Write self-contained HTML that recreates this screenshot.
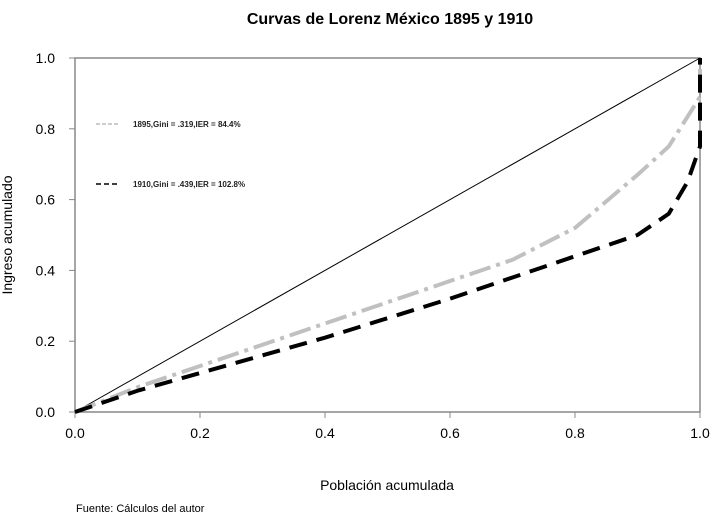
<!DOCTYPE html>
<html><head><meta charset="utf-8"><style>
body{margin:0;background:#fff;width:720px;height:522px;overflow:hidden}
svg text{font-family:"Liberation Sans",sans-serif}
</style></head><body>
<svg width="720" height="522">
<text x="390" y="24" text-anchor="middle" font-size="16" font-weight="bold">Curvas de Lorenz México 1895 y 1910</text>
<rect x="75" y="58" width="625" height="354" fill="none" stroke="#888" stroke-width="1.5"/>
<g id="axes"></g>
<line x1="75" y1="412" x2="700" y2="58" stroke="#000" stroke-width="1"/>
<path id="p1895" fill="none" stroke="#c0c0c0" stroke-width="4" stroke-dasharray="22,6,4,6"/>
<path id="p1910" fill="none" stroke="#000" stroke-width="4" stroke-dasharray="18,10"/>
<g>
<line x1="96" y1="124" x2="120" y2="124" stroke="#bbb" stroke-width="1.5" stroke-dasharray="4,2"/>
<text x="133" y="127" font-size="8" font-weight="bold" fill="#222">1895,Gini = .319,IER = 84.4%</text>
<line x1="96" y1="184" x2="120" y2="184" stroke="#000" stroke-width="1.5" stroke-dasharray="5,3"/>
<text x="133" y="187" font-size="8" font-weight="bold" fill="#222">1910,Gini = .439,IER = 102.8%</text>
</g>
<text x="387" y="490" text-anchor="middle" font-size="14">Población acumulada</text>
<text transform="translate(12,235) rotate(-90)" text-anchor="middle" font-size="14">Ingreso acumulado</text>
<text x="76" y="512" font-size="11">Fuente: Cálculos del autor</text>
</svg>
<script>
const ticks=[0,0.2,0.4,0.6,0.8,1.0];
const tickLabels=["0.0","0.2","0.4","0.6","0.8","1.0"];
const x1895=[0,0.1,0.2,0.4,0.6,0.7,0.8,0.9,0.95,1,1];
const y1895=[0,0.07,0.13,0.25,0.37,0.43,0.52,0.67,0.75,0.89,1];
const x1910=[0,0.1,0.2,0.4,0.6,0.7,0.8,0.9,0.95,0.98,1,1];
const y1910=[0,0.06,0.11,0.21,0.32,0.38,0.44,0.5,0.56,0.65,0.75,1];
const X=v=>75+v*625, Y=v=>412-v*354;
const ns="http://www.w3.org/2000/svg";
const g=document.getElementById('axes');
ticks.forEach((t,i)=>{
 let l=document.createElementNS(ns,'line');
 l.setAttribute('x1',X(t));l.setAttribute('x2',X(t));l.setAttribute('y1',412);l.setAttribute('y2',418);l.setAttribute('stroke','#888');
 
 
 g.appendChild(l);
 let tx=document.createElementNS(ns,'text');
 tx.setAttribute('x',X(t));tx.setAttribute('y',438);tx.setAttribute('text-anchor','middle');tx.setAttribute('font-size','14');tx.textContent=tickLabels[i];
 
 
 g.appendChild(tx);
 let l2=document.createElementNS(ns,'line');
 l2.setAttribute('x1',69);l2.setAttribute('x2',75);l2.setAttribute('y1',Y(t));l2.setAttribute('y2',Y(t));l2.setAttribute('stroke','#888');
 
 
 g.appendChild(l2);
 let ty=document.createElementNS(ns,'text');
 ty.setAttribute('x',55);ty.setAttribute('y',Y(t)+5);ty.setAttribute('text-anchor','end');ty.setAttribute('font-size','14');ty.textContent=tickLabels[i];
 
 
 g.appendChild(ty);
});
const mk=(xs,ys)=>xs.map((v,i)=>(i?'L':'M')+X(v)+','+Y(ys[i])).join('');
document.getElementById('p1895').setAttribute('d',mk(x1895,y1895));
document.getElementById('p1910').setAttribute('d',mk(x1910,y1910));
</script>
</body></html>
